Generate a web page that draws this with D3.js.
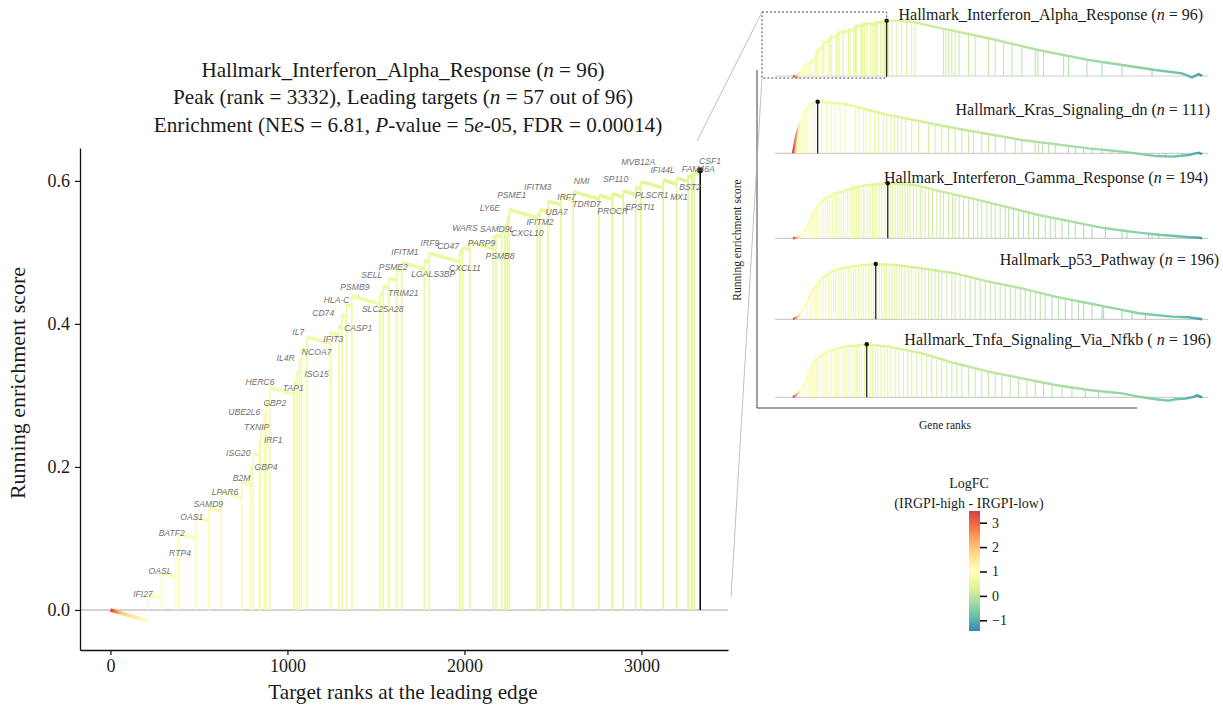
<!DOCTYPE html>
<html><head><meta charset="utf-8">
<script src="https://cdn.jsdelivr.net/npm/d3@7"></script>
<style>
body{margin:0;background:#fff}
svg{display:block}
text{font-family:"Liberation Serif","Times New Roman",serif;fill:#1a1a1a}
</style>
</head><body><svg id="c" width="1223" height="716"></svg>
<script>
// ---------------- DATA ----------------
const setName = "Hallmark_Interferon_Alpha_Response";
const setSize = 96, peakRank = 3332, leadCount = 57;
const nes = "6.81", pValue = "5", pExp = "-05", fdr = "0.00014";

const leadGenes = ["IFI27","OASL","RTP4","BATF2","OAS1","SAMD9","LPAR6","B2M","GBP4","ISG20","IRF1","TXNIP","UBE2L6","GBP2","HERC6","TAP1","ISG15","IL4R","NCOA7","IL7","IFIT3","CASP1","CD74","HLA-C","PSMB9","SLC25A28","TRIM21","SELL","PSME2","IFITM1","LGALS3BP","IRF9","CD47","CXCL11","WARS","PARP9","PSMB8","SAMD9L","CXCL10","LY6E","PSME1","IFITM3","IFITM2","UBA7","IRF7","NMI","TDRD7","PROCR","SP110","EPSTI1","PLSCR1","MVB12A","IFI44L","MX1","BST2","FAM46A","CSF1"];
const leadRanks = [210,289,368,385,483,556,626,741,792,807,841,850,869,882,901,1038,1054,1067,1080,1108,1244,1291,1308,1334,1364,1523,1541,1573,1617,1645,1773,1801,1975,1990,2031,2163,2178,2210,2229,2242,2253,2412,2427,2472,2545,2615,2760,2835,2897,2967,2997,3123,3199,3264,3284,3298,3332];
const leadES = [0.022,0.051,0.080,0.107,0.130,0.143,0.165,0.179,0.200,0.219,0.236,0.256,0.276,0.291,0.311,0.318,0.334,0.350,0.365,0.382,0.388,0.397,0.413,0.427,0.439,0.442,0.453,0.464,0.476,0.486,0.489,0.499,0.503,0.507,0.515,0.522,0.524,0.529,0.538,0.549,0.560,0.554,0.560,0.572,0.578,0.585,0.580,0.582,0.586,0.591,0.599,0.601,0.604,0.607,0.609,0.612,0.615];
// label anchor (rank, score) as placed in the reference
const labelRank = [184,280,393,346,459,553,647,741,879,722,920,826,756,929,845,1033,1165,990,1165,1061,1259,1400,1202,1278,1381,1538,1654,1476,1598,1664,1824,1805,1908,2003,2003,2097,2201,2185,2355,2144,2267,2414,2427,2521,2577,2662,2690,2838,2854,2992,3058,2982,3120,3212,3274,3321,3387];
const labelES = [0.022,0.054,0.080,0.108,0.130,0.148,0.165,0.184,0.200,0.220,0.237,0.256,0.277,0.290,0.319,0.311,0.330,0.352,0.361,0.389,0.379,0.394,0.415,0.433,0.452,0.421,0.443,0.469,0.480,0.501,0.470,0.513,0.509,0.478,0.534,0.513,0.495,0.533,0.527,0.562,0.580,0.591,0.542,0.556,0.578,0.600,0.567,0.558,0.602,0.563,0.580,0.626,0.615,0.578,0.592,0.617,0.628];
const missStep = 7.2e-5;   // running score lost per non-target rank (slope read from the steps)

const fcRanks  = [0, 60, 200, 600, 1500, 3300, 5500, 8000, 10500, 12500, 13800, 14300, 14550];
const fcValues = [3.4, 1.9, 1.0, 0.85, 0.62, 0.36, 0.12, -0.08, -0.28, -0.52, -0.8, -1.05, -1.35];
const fcMin = -1.44, fcMax = 3.48;
const fcTicks = [-1, 0, 1, 2, 3];
const spectral9 = ["#3288bd","#66c2a5","#abdda4","#e6f598","#ffffbf","#fee08b","#fdae61","#f46d43","#d53e4f"];

// small panels
const nGenes = 14550;
const panelNames = ["Hallmark_Interferon_Alpha_Response","Hallmark_Kras_Signaling_dn","Hallmark_Interferon_Gamma_Response","Hallmark_p53_Pathway","Hallmark_Tnfa_Signaling_Via_Nfkb"];
const panelSizes = [96, 111, 194, 196, 196];
const panelPeaks = [3332, 878, 3371, 2944, 2623];

const alphaTailRanks = [3332,3700,4226,5294,6956,8736,10517,11704,12891,13840,14197,14434,14553];
const alphaTailES    = [0.615,0.612,0.603,0.530,0.419,0.289,0.178,0.122,0.067,0.030,-0.015,0.022,0];
const alphaTailHits  = [3395,3514,3692,3870,4048,4226,4344,5353,5436,5531,5650,5769,5911,6244,6481,6956,7193,7490,7787,8143,8618,8713,8914,9627,9805,10457,10992,11704,12772,14197,14290,14400];

const krasRanks = [0,130,250,427,665,878,1852,3395,5769,8143,10517,11704,12891,13484,14078,14434,14553];
const krasES    = [0,0.22,0.333,0.48,0.555,0.573,0.548,0.426,0.278,0.148,0.055,0.018,-0.03,-0.037,-0.019,0.007,-0.011];
const krasHits  = [24,36,47,59,71,83,95,119,142,166,202,237,273,309,356,404,451,510,570,641,724,807,878,1021,1199,1353,1496,1674,1852,2208,2350,2505,2600,2742,2896,3039,3217,3335,3490,3608,3727,3870,4012,4226,4463,4819,5057,5294,5531,5769,6006,6244,6422,6718,6956,7193,7549,7905,8143,8618,8736,8879,9092,9330,9805,10042,10339,10636,10992,11348,11704,12060,13010,13247,13840,14434];

const gammaRanks = [0,190,427,605,783,961,1140,1496,1852,2208,2683,3371,4344,5294,6362,7549,8736,9923,11110,12297,13128,13603,14078,14434,14553];
const gammaES    = [0,0.011,0.093,0.185,0.315,0.389,0.444,0.5,0.53,0.567,0.593,0.611,0.593,0.519,0.444,0.352,0.259,0.185,0.111,0.063,0.037,0.026,0.011,0.007,0];
const gammaHits  = [309,427,546,605,688,760,843,902,1021,1080,1163,1234,1318,1401,1496,1555,1638,1709,1792,1875,1947,2030,2113,2184,2267,2327,2421,2505,2564,2659,2742,2825,2896,2979,3062,3157,3276,3371,3454,3537,3632,3727,3810,3893,3988,4083,4166,4285,4404,4523,4582,4701,4819,4962,5116,5235,5353,5531,5674,5769,5911,6066,6244,6422,6576,6718,6896,7051,7193,7371,7549,7668,7846,8024,8202,8380,8558,8736,8974,9152,9330,9567,9805,10042,10339,10636,11110,11704,11882,12653,12772,13010];

const p53Ranks = [0,190,427,605,783,1021,1377,1733,2208,2944,3632,4582,5769,6956,8143,9330,10517,11110,11704,12297,12891,13484,14078,14553];
const p53ES    = [0,0.030,0.141,0.270,0.363,0.456,0.530,0.567,0.593,0.615,0.604,0.567,0.511,0.419,0.344,0.252,0.178,0.141,0.104,0.067,0.048,0.030,0.022,0];
const p53Hits  = [249,368,451,522,605,665,760,843,926,997,1080,1163,1258,1353,1436,1519,1614,1709,1792,1875,1970,2065,2148,2232,2327,2421,2505,2588,2683,2778,2861,2944,3062,3157,3252,3335,3419,3514,3608,3692,3775,3870,3988,4107,4226,4344,4463,4582,4701,4819,4938,5057,5175,5294,5472,5650,5769,5947,6125,6303,6481,6659,6837,7015,7193,7371,7549,7727,7905,8083,8262,8440,8618,8796,8974,9211,9449,9686,9923,10161,10339,10636,10992,11051,11704,12060,12535];

const tnfaRanks = [0,190,427,605,783,1021,1377,1852,2623,3395,4582,5769,6956,8143,9330,10517,11704,12297,12891,13366,13603,13959,14197,14375,14553];
const tnfaES    = [0,0.044,0.156,0.304,0.415,0.470,0.526,0.563,0.589,0.563,0.489,0.378,0.285,0.211,0.137,0.081,0.044,0.007,-0.022,-0.037,-0.022,-0.015,0,0.022,0];
const tnfaHits  = [285,368,451,546,617,688,760,843,926,1021,1104,1199,1282,1377,1472,1555,1638,1733,1828,1911,1994,2089,2184,2267,2350,2445,2540,2623,2742,2825,2920,3015,3134,3252,3371,3490,3632,3775,3929,4083,4226,4404,4582,4760,4938,5116,5294,5472,5650,5828,6006,6244,6481,6718,6956,7193,7431,7727,8024,8321,8618,8914,9211,9567,9923,10398,10873,12297];

// ---------------- SCALES ----------------
const svg = d3.select("#c");
const defs = svg.append("defs");
const fcColor = d3.scaleLinear()
  .domain(d3.range(9).map(i => fcMin + i * (fcMax - fcMin) / 8))
  .range(spectral9).interpolate(d3.interpolateRgb);
const rankFC = d3.scaleLinear().domain(fcRanks).range(fcValues).clamp(true);
const colAt = r => fcColor(rankFC(r));

function rankGradient(id, scale, r0, r1) {
  const g = defs.append("linearGradient").attr("id", id)
    .attr("gradientUnits", "userSpaceOnUse")
    .attr("x1", scale(r0)).attr("x2", scale(r1)).attr("y1", 0).attr("y2", 0);
  const n = 60;
  d3.range(n + 1).forEach(i => {
    const r = r0 + (r1 - r0) * i / n;
    g.append("stop").attr("offset", i / n).attr("stop-color", colAt(r));
  });
}

// ---------------- MAIN CHART ----------------
const x = d3.scaleLinear().domain([-172, 3489]).range([80, 728]);
const y = d3.scaleLinear().domain([-0.056, 0.646]).range([650, 148]);
const main = svg.append("g");

main.append("line").attr("x1", x(-172)).attr("x2", x(3489)).attr("y1", y(0)).attr("y2", y(0))
  .attr("stroke", "#c4c4c4").attr("stroke-width", 1.6);

// target lines
main.selectAll("line.hit").data(leadRanks.slice(0, -1)).join("line").attr("class", "hit")
  .attr("x1", d => x(d)).attr("x2", d => x(d))
  .attr("y1", y(0)).attr("y2", (d, i) => y(leadES[i]))
  .attr("stroke", d => colAt(d)).attr("stroke-width", 1.7);

// running score segments
rankGradient("gHead", x, 0, leadRanks[0]);
main.append("line").attr("x1", x(0)).attr("y1", y(0))
  .attr("x2", x(leadRanks[0])).attr("y2", y(-missStep * leadRanks[0]))
  .attr("stroke", "url(#gHead)").attr("stroke-width", 3.6);
const segs = leadRanks.slice(0, -1).map((r, i) => {
  const rn = leadRanks[i + 1];
  return {r, rn, e: leadES[i], en: leadES[i] - missStep * (rn - r)};
});
main.selectAll("line.seg").data(segs).join("line").attr("class", "seg")
  .attr("x1", d => x(d.r)).attr("y1", d => y(d.e))
  .attr("x2", d => x(d.rn)).attr("y2", d => y(d.en))
  .attr("stroke", d => colAt(d.r)).attr("stroke-width", 3.6);

// peak
const pk = leadRanks.length - 1;
main.append("line").attr("x1", x(leadRanks[pk])).attr("x2", x(leadRanks[pk]))
  .attr("y1", y(0)).attr("y2", y(leadES[pk])).attr("stroke", "#111").attr("stroke-width", 1.6);
main.append("circle").attr("cx", x(leadRanks[pk])).attr("cy", y(leadES[pk])).attr("r", 3).attr("fill", "#111");

// labels
main.selectAll("text.lab").data(leadGenes).join("text").attr("class", "lab")
  .attr("x", (d, i) => x(labelRank[i])).attr("y", (d, i) => y(labelES[i]))
  .attr("text-anchor", "middle").attr("dominant-baseline", "central")
  .style("font-family", "'Liberation Sans',Arial,sans-serif").style("font-style", "italic")
  .style("font-size", "8.6px").style("fill", "#707070").text(d => d);

// axes
const yAx = main.append("g").attr("transform", "translate(80,0)")
  .call(d3.axisLeft(y).tickValues([0, 0.2, 0.4, 0.6]).tickFormat(d3.format(".1f")).tickSize(5).tickSizeOuter(0));
const xAx = main.append("g").attr("transform", "translate(0,650)")
  .call(d3.axisBottom(x).tickValues([0, 1000, 2000, 3000]).tickFormat(d3.format("d")).tickSize(5).tickSizeOuter(0));
[yAx, xAx].forEach(a => {
  a.select(".domain").attr("stroke", "#111").attr("stroke-width", 1.3);
  a.selectAll(".tick line").attr("stroke", "#111").attr("stroke-width", 1.2);
  a.selectAll(".tick text").style("font-family", "'Liberation Serif',serif").style("font-size", "18px").attr("fill", "#1a1a1a");
});
yAx.selectAll(".tick text").attr("x", -10);
xAx.selectAll(".tick text").attr("y", 9);

main.append("text").attr("x", 403).attr("y", 699).attr("text-anchor", "middle")
  .style("font-size", "21.2px").text("Target ranks at the leading edge");
main.append("text").attr("transform", "translate(25,383) rotate(-90)").attr("text-anchor", "middle")
  .style("font-size", "22px").text("Running enrichment score");

// title
const tl = main.append("g").style("font-size", "21.2px").attr("text-anchor", "middle");
const t1 = tl.append("text").attr("x", 403).attr("y", 77);
t1.append("tspan").text(setName + " (");
t1.append("tspan").style("font-style", "italic").text("n");
t1.append("tspan").text(" = " + setSize + ")");
const t2 = tl.append("text").attr("x", 403).attr("y", 104);
t2.append("tspan").text("Peak (rank = " + peakRank + "), Leading targets (");
t2.append("tspan").style("font-style", "italic").text("n");
t2.append("tspan").text(" = " + leadCount + " out of " + setSize + ")");
const t3 = tl.append("text").attr("x", 408).attr("y", 132);
t3.append("tspan").text("Enrichment (NES = " + nes + ", ");
t3.append("tspan").style("font-style", "italic").text("P");
t3.append("tspan").text("-value = " + pValue);
t3.append("tspan").style("font-style", "italic").text("e");
t3.append("tspan").text(pExp + ", FDR = " + fdr + ")");

// ---------------- SMALL PANELS ----------------
const xm = d3.scaleLinear().domain([0, nGenes]).range([793, 1202]);
const panelBase = [76, 153.3, 238.3, 319.3, 397.3];
const titleRight = [1203, 1210, 1208, 1219, 1211];
const titleY = [20, 115, 183, 265, 345];
rankGradient("gMini", xm, 0, nGenes);

// panel 1 curve = steps of the leading edge + tail
const aR = [0], aE = [0];
leadRanks.forEach((r, i) => {
  const prev = i === 0 ? -missStep * r : leadES[i - 1] - missStep * (r - leadRanks[i - 1]);
  aR.push(r, r); aE.push(prev, leadES[i]);
});
alphaTailRanks.slice(1).forEach((r, i) => { aR.push(r); aE.push(alphaTailES[i + 1]); });

const curves = [
  {r: aR, e: aE, hits: leadRanks.concat(alphaTailHits)},
  {r: krasRanks, e: krasES, hits: krasHits},
  {r: gammaRanks, e: gammaES, hits: gammaHits},
  {r: p53Ranks, e: p53ES, hits: p53Hits},
  {r: tnfaRanks, e: tnfaES, hits: tnfaHits}
];

const mini = svg.append("g");
curves.forEach((c, k) => {
  const base = panelBase[k];
  const ym = d3.scaleLinear().domain([0, 1]).range([base, base - 90]);
  const g = mini.append("g");
  g.append("line").attr("x1", 775).attr("x2", 1208).attr("y1", base).attr("y2", base)
    .attr("stroke", "#cfcfcf").attr("stroke-width", 1.2);
  const pts = c.r.map((r, i) => [r, c.e[i]]);
  const esAt = r => {
    const j = d3.bisectRight(c.r, r);
    if (j <= 0) return c.e[0];
    if (j >= c.r.length) return c.e[c.e.length - 1];
    const r0 = c.r[j - 1], r1 = c.r[j];
    return r1 === r0 ? c.e[j] : c.e[j - 1] + (c.e[j] - c.e[j - 1]) * (r - r0) / (r1 - r0);
  };
  g.selectAll("line.h").data(c.hits.filter(h => h !== panelPeaks[k])).join("line")
    .attr("x1", d => xm(d)).attr("x2", d => xm(d))
    .attr("y1", base).attr("y2", d => ym(esAt(d)))
    .attr("stroke", d => colAt(d)).attr("stroke-width", 1).attr("opacity", 0.9);
  g.append("path").datum(pts)
    .attr("d", d3.line().x(d => xm(d[0])).y(d => ym(d[1])))
    .attr("fill", "none").attr("stroke", "url(#gMini)").attr("stroke-width", 2.4);
  const pe = esAt(panelPeaks[k]);
  g.append("line").attr("x1", xm(panelPeaks[k])).attr("x2", xm(panelPeaks[k]))
    .attr("y1", base).attr("y2", ym(pe)).attr("stroke", "#222").attr("stroke-width", 1.3);
  g.append("circle").attr("cx", xm(panelPeaks[k])).attr("cy", ym(pe)).attr("r", 2.2).attr("fill", "#111");
  const t = g.append("text").attr("x", titleRight[k]).attr("y", titleY[k]).attr("text-anchor", "end").style("font-size", "16px");
  t.append("tspan").text(panelNames[k] + (k === 4 ? " ( " : " ("));
  t.append("tspan").style("font-style", "italic").text("n");
  t.append("tspan").text(" = " + panelSizes[k] + ")");
});

// panel frame
mini.append("path").attr("d", "M757,70V408H1137").attr("fill", "none").attr("stroke", "#444").attr("stroke-width", 1);
mini.append("text").attr("transform", "translate(741,240) rotate(-90)").attr("text-anchor", "middle")
  .style("font-size", "11.5px").text("Running enrichment score");
mini.append("text").attr("x", 945).attr("y", 429).attr("text-anchor", "middle").style("font-size", "11.5px").text("Gene ranks");

// zoom box and leader lines
mini.append("rect").attr("x", 762).attr("y", 12).attr("width", xm(panelPeaks[0]) - 762).attr("height", 66)
  .attr("fill", "none").attr("stroke", "#333").attr("stroke-width", 0.9).attr("stroke-dasharray", "2,2");
mini.append("line").attr("x1", 697).attr("y1", 141).attr("x2", 762).attr("y2", 12).attr("stroke", "#b0b0b0").attr("stroke-width", 0.8);
mini.append("line").attr("x1", 731).attr("y1", 597).attr("x2", 762).attr("y2", 78).attr("stroke", "#b0b0b0").attr("stroke-width", 0.8);

// ---------------- LEGEND ----------------
const leg = svg.append("g");
const cy = d3.scaleLinear().domain([fcMin, fcMax]).range([631, 511]);
const lg = defs.append("linearGradient").attr("id", "gLeg").attr("x1", 0).attr("x2", 0).attr("y1", 1).attr("y2", 0);
spectral9.forEach((c, i) => lg.append("stop").attr("offset", i / 8).attr("stop-color", c));
leg.append("rect").attr("x", 969).attr("y", 511).attr("width", 11).attr("height", 120).attr("fill", "url(#gLeg)");
const la = leg.append("g").attr("transform", "translate(980,0)")
  .call(d3.axisRight(cy).tickValues(fcTicks).tickSize(7).tickFormat(d3.format("d")));
la.select(".domain").remove();
la.selectAll(".tick line").attr("stroke", "#111").attr("stroke-width", 1.6);
la.selectAll(".tick text").style("font-family", "'Liberation Serif',serif").style("font-size", "14px").attr("x", 12).attr("fill", "#1a1a1a");
leg.append("text").attr("x", 969).attr("y", 488).attr("text-anchor", "middle").style("font-size", "14px").text("LogFC");
leg.append("text").attr("x", 969).attr("y", 508).attr("text-anchor", "middle").style("font-size", "14px").text("(IRGPI-high - IRGPI-low)");
</script></body></html>
